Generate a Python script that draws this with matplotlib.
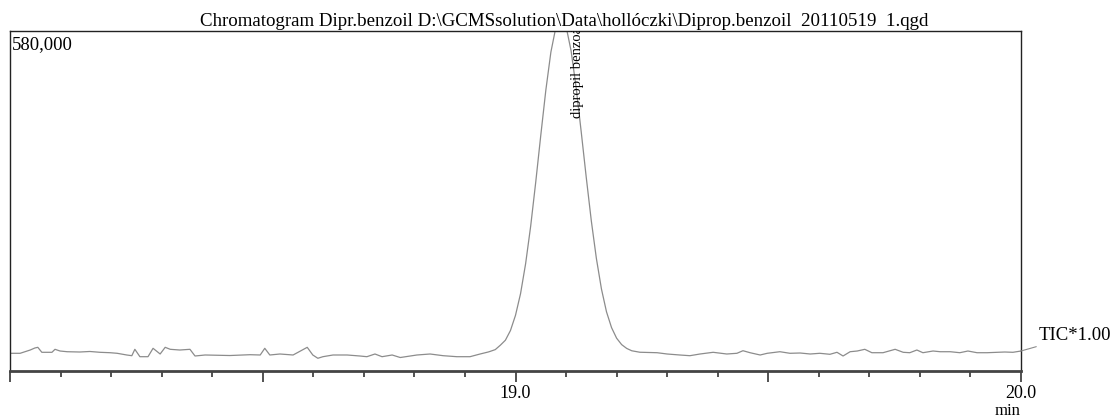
import matplotlib
matplotlib.use("Agg")
import matplotlib.pyplot as plt
from matplotlib.ticker import MultipleLocator

plt.rcParams['font.family'] = ['Liberation Serif', 'DejaVu Serif']

# retention time (min) and TIC intensity
time = [18.000, 18.020, 18.040, 18.049, 18.055, 18.063, 18.083, 18.089, 18.099, 18.113,
        18.138, 18.158, 18.178, 18.198, 18.212, 18.231, 18.241, 18.247, 18.257, 18.273,
        18.283, 18.297, 18.307, 18.317, 18.336, 18.356, 18.366, 18.386, 18.435, 18.475,
        18.495, 18.504, 18.514, 18.534, 18.560, 18.588, 18.599, 18.609, 18.619, 18.639,
        18.667, 18.692, 18.706, 18.722, 18.736, 18.756, 18.772, 18.805, 18.831, 18.857,
        18.884, 18.910, 18.930, 18.946,
        18.95, 18.96, 18.97, 18.98, 18.99, 19.00, 19.01, 19.02, 19.03, 19.04,
        19.05, 19.06, 19.07, 19.08, 19.09, 19.10, 19.11, 19.12, 19.13, 19.14,
        19.15, 19.16, 19.17, 19.18, 19.19, 19.20, 19.21, 19.22, 19.23,
        19.246, 19.280, 19.300, 19.325, 19.345, 19.365, 19.391, 19.418, 19.438, 19.450,
        19.464, 19.484, 19.498, 19.523, 19.543, 19.563, 19.583, 19.602, 19.622, 19.636,
        19.648, 19.662, 19.676, 19.691, 19.705, 19.727, 19.751, 19.767, 19.780, 19.794,
        19.806, 19.826, 19.840, 19.860, 19.879, 19.895, 19.913, 19.933, 19.953, 19.968,
        19.984, 20.000]
tic = [30200, 30200, 35800, 39200, 40400, 31900, 31900, 37000, 34100, 32900,
       32400, 33300, 31900, 31200, 30200, 27300, 26100, 37000, 24400, 24400,
       38700, 29000, 40400, 37000, 35800, 37000, 25600, 27300, 26400, 27800,
       27300, 38700, 27300, 29000, 27300, 40400, 27300, 21700, 24400, 27300,
       27300, 25600, 24400, 29000, 24400, 27300, 23000, 27300, 29000, 26100,
       24400, 24400, 29000, 32400,
       33500, 36500, 44000, 52500, 69000, 95000, 132000, 183000, 247000, 322000,
       402000, 479000, 544000, 587000, 602000, 588000, 546000, 483000, 408000, 330000,
       256000, 192000, 140000, 101000, 74000, 56000, 45000, 38500, 34500,
       32000, 31200, 29000, 27300, 26100, 29000, 31900, 29000, 30200, 34600,
       31200, 27300, 30200, 32900, 30200, 30700, 29000, 30200, 28500, 31900,
       25600, 32900, 34100, 37000, 31200, 31200, 37000, 31900, 31200, 35800,
       31200, 34100, 32900, 32900, 31200, 34100, 31200, 31200, 31900, 32400,
       31900, 34100]

xmin, xmax = 18.0, 20.0
ymax = 580000
major_ticks = [18.0, 18.5, 19.0, 19.5, 20.0]
major_labels = ['', '', '19.0', '', '20.0']
peak_time, peak_label_y = 19.122, 432000
peak_name = 'dipropil benzoát'
title = 'Chromatogram Dipr.benzoil D:\\GCMSsolution\\Data\\hollóczki\\Diprop.benzoil  20110519  1.qgd'

fig = plt.figure(figsize=(11.17, 4.19), dpi=100)
ax = fig.add_axes([10 / 1117, 1 - 371 / 419, 1011 / 1117, 340 / 419])

ax.plot(time, tic, color='#8c8c8c', lw=0.9)
ax.set_xlim(xmin, xmax)
ax.set_ylim(0, ymax)

ax.set_xticks(major_ticks)
ax.set_xticklabels(major_labels, fontsize=13)
ax.xaxis.set_minor_locator(MultipleLocator(0.1))
ax.tick_params(axis='x', which='major', direction='out', length=8, width=1.2,
               color='#333333', pad=2)
ax.tick_params(axis='x', which='minor', direction='out', length=4, width=1.2,
               color='#333333')
ax.set_yticks([])

for side in ['left', 'right', 'top']:
    ax.spines[side].set_linewidth(1.0)
    ax.spines[side].set_color('#222222')
ax.spines['bottom'].set_linewidth(2.0)
ax.spines['bottom'].set_color('#444444')

ax.text(0.002, 0.985, '580,000', transform=ax.transAxes, ha='left', va='top',
        fontsize=13.5)
ax.text(peak_time, peak_label_y, peak_name, rotation=90, ha='center', va='bottom',
        fontsize=10.5, clip_on=True)

ax.annotate('TIC*1.00', xy=(time[-1], tic[-1]), xytext=(13, 5),
            textcoords='offset points', ha='left', va='bottom', fontsize=13.5,
            annotation_clip=False,
            arrowprops=dict(arrowstyle='-', color='#8c8c8c', lw=0.8,
                            shrinkA=0, shrinkB=0))

fig.text(1008 / 1117, 1 - 411 / 419, 'min', ha='center', va='center', fontsize=12)
fig.text(564 / 1117, 1 - 22 / 419, title, ha='center', va='center', fontsize=13.6)

fig.savefig('out.png', dpi=100)
